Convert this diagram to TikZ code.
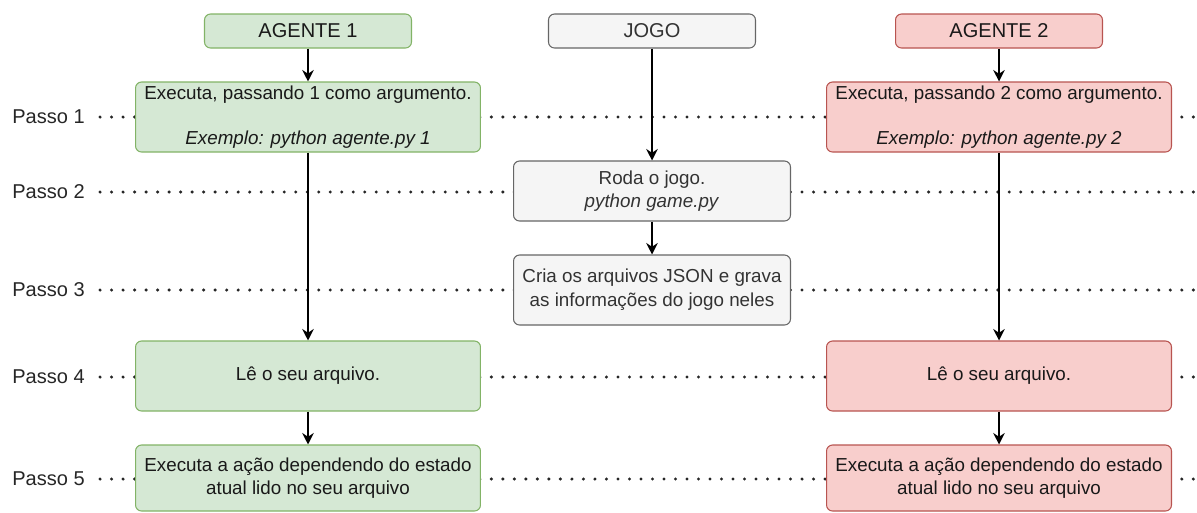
\documentclass[tikz,border=0pt]{standalone}
\usepackage{fontspec}
\setmainfont{Liberation Sans}
\usepackage{tikz}
\usetikzlibrary{arrows.meta, positioning, calc}
\definecolor{verdeFundo}{HTML}{D5E8D4}
\definecolor{verdeBorda}{HTML}{82B366}
\definecolor{vermelhoFundo}{HTML}{F8CECC}
\definecolor{vermelhoBorda}{HTML}{B85450}
\definecolor{cinzaFundo}{HTML}{F5F5F5}
\definecolor{cinzaBorda}{HTML}{666666}
\definecolor{cinzaTexto}{HTML}{333333}
\newcommand{\ligacao}[2]
{
	\draw[seta] (#1.south) -- (#2.north)
}
\newcommand{\linhaPasso}[1]
{
	\draw[pontos] ([xshift=0.3cm]#1.east) -- (#1 -| borda)
}

\begin{document}
\begin{tikzpicture}[x=0.02cm, y=-0.02cm,
			caixa/.style={shape=rectangle,
				rounded corners=0.12cm,
				line width=0.6pt,
				align=center,
				inner sep=0,
			font=\fontsize{10.7}{13.5}\selectfont},
			agente1/.style={caixa, draw=verdeBorda, fill=verdeFundo, text=black!90},
			agente2/.style={caixa, draw=vermelhoBorda, fill=vermelhoFundo, text=black!90},
			jogo/.style={caixa, draw=cinzaBorda, fill=cinzaFundo, text=cinzaTexto, minimum width=5.54cm},
			titulo/.style={minimum width=4.14cm, minimum height=0.68cm, font=\fontsize{11.4}{13.5}\selectfont},
			etapa/.style={minimum width=6.9cm, minimum height=1.4cm},
			passo/.style={anchor=west, inner sep=0, text=black!85, font=\fontsize{11.4}{13.5}\selectfont},
			pontos/.style={draw=black!85, line width=1.9pt, dash pattern=on 0pt off 6.55pt, line cap=round},
			seta/.style={line width=0.85pt, -{Stealth[length=6.5pt, width=6.5pt]}}]
	\useasboundingbox (0, 0) rectangle (1197, 512);
	\coordinate (borda) at (1197, 0);
	
	% passos e linhas pontilhadas
	\node[passo] at (12, 117) (p1){Passo 1};
	\node[passo] at (12, 192) (p2){Passo 2};
	\node[passo] at (12, 290) (p3){Passo 3};
	\node[passo] at (12, 377) (p4){Passo 4};
	\node[passo] at (12, 479) (p5){Passo 5};
	
	\linhaPasso{p1};
	\linhaPasso{p2};
	\linhaPasso{p3};
	\linhaPasso{p4};
	\linhaPasso{p5};
	
	% titulos
	\node[agente1, titulo] at (308, 31) (A1){AGENTE 1};
	\node[jogo, titulo] at (652, 31) (J){JOGO};
	\node[agente2, titulo] at (999, 31) (A2){AGENTE 2};
	
	% agente 1
	\node[agente1, etapa] at (308, 117) (A1p1){Executa, passando 1 como argumento.\\[0.42cm]\textit{Exemplo: python agente.py 1}};
	\node[agente1, etapa] at (308, 376) (A1p4){Lê o seu arquivo.};
	\node[agente1, etapa, minimum height=1.32cm] at (308, 478) (A1p5){Executa a ação dependendo do estado\\atual lido no seu arquivo};
	
	% jogo
	\node[jogo, minimum height=1.2cm] at (652, 191) (Jp2){Roda o jogo.\\\textit{python game.py}};
	\node[jogo, minimum height=1.4cm] at (652, 290) (Jp3){Cria os arquivos JSON e grava\\as informações do jogo neles};
	
	% agente 2
	\node[agente2, etapa] at (999, 117) (A2p1){Executa, passando 2 como argumento.\\[0.42cm]\textit{Exemplo: python agente.py 2}};
	\node[agente2, etapa] at (999, 376) (A2p4){Lê o seu arquivo.};
	\node[agente2, etapa, minimum height=1.32cm] at (999, 478) (A2p5){Executa a ação dependendo do estado\\atual lido no seu arquivo};
	
	\ligacao{A1}{A1p1};
	\ligacao{A1p1}{A1p4};
	\ligacao{A1p4}{A1p5};
	\ligacao{J}{Jp2};
	\ligacao{Jp2}{Jp3};
	\ligacao{A2}{A2p1};
	\ligacao{A2p1}{A2p4};
	\ligacao{A2p4}{A2p5};
\end{tikzpicture}
\end{document}
